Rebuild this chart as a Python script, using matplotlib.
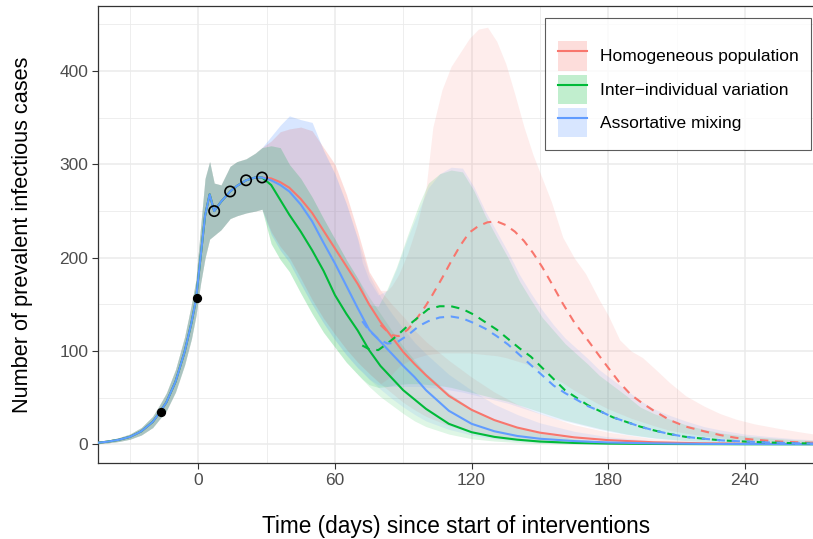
import matplotlib
matplotlib.use("Agg")
import matplotlib.pyplot as plt
from matplotlib.patches import Patch
from matplotlib.lines import Line2D

plt.rcParams["font.family"] = ["Liberation Sans", "DejaVu Sans"]

# --- DATA ---
LABELS = ["Homogeneous population", "Inter\u2212individual variation", "Assortative mixing"]
COLORS = ["#F8766D", "#00BA38", "#619CFF"]

# days for the "interventions kept" curves
DAYS = [-45, -40, -35, -30, -25, -20, -17, -14, -10, -6, -3, -1, 1, 3, 5, 7, 10, 14, 17, 21, 25, 28,
        32, 36, 40, 45, 50, 55, 60, 65, 70, 75, 80, 85, 90, 95, 100, 110, 120, 130, 140, 150,
        165, 180, 200, 220, 240, 273]

# shared epidemic phase up to day 28
EARLY_MEAN = [1.5, 2.8, 4.8, 8, 14, 24, 34, 45, 67, 99, 130, 155, 200, 245, 268, 250, 260, 271, 277, 283, 286, 286]
EARLY_LO = [0.5, 1.5, 3, 5.5, 10, 18, 27, 36, 56, 85, 113, 138, 172, 200, 220, 224, 230, 242, 245, 248, 250, 252]
EARLY_HI = [3, 4.5, 7, 11, 18, 30, 42, 55, 80, 115, 150, 176, 232, 285, 303, 280, 278, 298, 303, 306, 312, 318]

RED_LATE = [285, 281, 275, 263, 248, 229, 210, 191, 172, 150, 131, 115, 99, 86, 74, 52, 37, 26, 18, 12.5,
            7.5, 4.5, 2.2, 1.2, 0.7, 0.3]
RED_LATE_LO = [228, 212, 200, 178, 155, 135, 118, 102, 88, 76, 65, 55, 45, 37, 30, 20, 13, 8, 5, 3,
               2, 1, 0.5, 0.2, 0.1, 0]
RED_LATE_HI = [325, 335, 338, 340, 336, 318, 300, 268, 228, 185, 165, 150, 137, 122, 110, 90, 72, 56, 43, 33,
               21, 13, 6, 3, 2, 1]

GREEN_LATE = [278, 262, 246, 228, 208, 186, 160, 140, 122, 101, 84, 71, 58, 48, 38, 22, 13, 8, 5, 3,
              1.5, 0.8, 0.4, 0.2, 0.1, 0.05]
GREEN_LATE_LO = [215, 198, 185, 162, 140, 120, 104, 88, 75, 62, 51, 42, 33, 25, 19, 11, 6, 3.5, 2, 1,
                 0.5, 0.2, 0.1, 0, 0, 0]
GREEN_LATE_HI = [320, 318, 300, 285, 265, 242, 220, 198, 178, 158, 140, 122, 105, 90, 76, 55, 38, 26, 18, 12,
                 6, 3, 1.5, 0.5, 0.3, 0.1]

BLUE_LATE = [283, 278, 271, 257, 239, 216, 194, 170, 146, 123, 110, 97, 84, 72, 58, 36, 22, 14, 9, 6,
             3.5, 2, 1, 0.5, 0.3, 0.1]
BLUE_LATE_LO = [225, 208, 195, 172, 150, 130, 112, 96, 82, 70, 59, 49, 40, 32, 25, 16, 10, 6, 3.5, 2,
                1, 0.5, 0.2, 0.1, 0, 0]
BLUE_LATE_HI = [330, 342, 352, 348, 345, 315, 290, 258, 220, 182, 158, 140, 124, 109, 97, 75, 58, 43, 32, 23,
                14, 8, 4, 2, 1, 0.5]

# "interventions lifted" curves (dashed), from the day they branch off
RD_DAYS = [80, 83, 85, 88, 92, 96, 100, 103, 107, 111, 115, 119, 123, 127, 131, 135, 139, 143, 147, 151,
           155, 160, 165, 170, 176, 180, 185, 190, 195, 200, 207, 214, 222, 229, 236, 244, 255, 265, 273]
RD_MEAN = [128, 121, 117, 116, 123, 135, 149, 161, 178, 196, 213, 227, 234, 238, 239, 235, 228, 218, 205, 190,
           173, 151, 131, 115, 95, 82, 66, 53, 44, 36, 26, 19, 14, 10, 7, 5, 3, 2, 1.5]
RD_LO = [65, 70, 75, 83, 89, 93, 96, 97, 98, 98, 98, 98, 97, 96, 95, 93, 90, 87, 83, 78,
         73, 66, 58, 51, 43, 38, 33, 28, 24, 20, 15, 12, 9, 7, 5, 3.5, 2.5, 1.5, 1]
RD_HI = [165, 165, 170, 182, 205, 235, 275, 340, 380, 405, 420, 435, 445, 447, 432, 408, 375, 340, 310, 285,
         260, 222, 200, 183, 155, 138, 112, 100, 93, 82, 66, 52, 41, 33, 27, 22, 17, 13, 10]

GB_DAYS = [72, 75, 79, 83, 87, 92, 97, 101, 106, 111, 116, 121, 126, 131, 136, 141, 146, 151, 156, 161,
           166, 171, 176, 182, 188, 194, 200, 207, 214, 222, 230, 240, 250, 262, 273]
GD_MEAN = [106, 102, 101, 108, 116, 127, 137, 145, 148, 148, 145, 139, 131, 123, 113, 103, 94, 82, 70, 58,
           50, 42, 36, 29, 24, 19, 15, 11, 8, 6, 4.2, 3, 2, 1.2, 0.8]
GD_LO = [70, 64, 61, 62, 64, 65, 65, 64, 63, 61, 58, 55, 52, 49, 46, 42, 38, 34, 30, 26,
         23, 20, 17, 14, 11, 9, 7, 5.5, 4, 3, 2.2, 1.5, 1, 0.6, 0.4]
GD_HI = [168, 150, 148, 167, 190, 225, 258, 280, 290, 294, 292, 272, 245, 222, 200, 175, 155, 136, 122, 108,
         97, 86, 74, 63, 52, 40, 33, 27, 21, 16, 12, 9, 7, 5, 4]
BD_MEAN = [132, 122, 113, 108, 109, 117, 127, 132, 136, 137, 135, 130, 124, 116, 107, 96, 85, 74, 63, 55,
           48, 41, 36, 29, 24, 19, 15, 11, 8, 6, 4.2, 3, 2, 1.2, 0.8]
BD_LO = [78, 70, 64, 62, 62, 62, 62, 61, 60, 58, 56, 53, 50, 47, 44, 40, 36, 32, 28, 25,
         22, 19, 16, 13, 10.5, 8.5, 6.5, 5, 3.8, 2.8, 2, 1.4, 1, 0.6, 0.4]
BD_HI = [195, 176, 160, 165, 188, 222, 252, 275, 290, 297, 296, 276, 250, 228, 206, 182, 162, 144, 128, 114,
         103, 92, 80, 69, 58, 47, 38, 31, 25, 19, 15, 11, 8.5, 6, 4.5]

# observed points
OBS_FILLED_DAYS = [-16.5, -0.7]
OBS_FILLED_VALS = [34.5, 157]
OBS_OPEN_DAYS = [7, 14, 21, 28]
OBS_OPEN_VALS = [250, 271, 283, 286]

RIBBON_ALPHA = 0.13


def main():
    fig = plt.figure(figsize=(8.13, 5.39), dpi=100)
    ax = fig.add_axes([98 / 813, 76 / 539, (814 - 98) / 813, 457 / 539])

    solid = [
        (EARLY_MEAN + RED_LATE, EARLY_LO + RED_LATE_LO, EARLY_HI + RED_LATE_HI),
        (EARLY_MEAN + GREEN_LATE, EARLY_LO + GREEN_LATE_LO, EARLY_HI + GREEN_LATE_HI),
        (EARLY_MEAN + BLUE_LATE, EARLY_LO + BLUE_LATE_LO, EARLY_HI + BLUE_LATE_HI),
    ]
    dashed = [
        (RD_DAYS, RD_MEAN, RD_LO, RD_HI),
        (GB_DAYS, GD_MEAN, GD_LO, GD_HI),
        (GB_DAYS, BD_MEAN, BD_LO, BD_HI),
    ]

    # ribbons: each scenario shares its history with the solid run before branching
    for (m, lo, hi), c in zip(solid, COLORS):
        ax.fill_between(DAYS, lo, hi, color=c, alpha=RIBBON_ALPHA, lw=0, zorder=2)
    for (m, lo, hi), (d, dm, dlo, dhi), c in zip(solid, dashed, COLORS):
        keep = [i for i, t in enumerate(DAYS) if t < d[0]]
        days = [DAYS[i] for i in keep] + d
        lo_all = [lo[i] for i in keep] + dlo
        hi_all = [hi[i] for i in keep] + dhi
        ax.fill_between(days, lo_all, hi_all, color=c, alpha=RIBBON_ALPHA, lw=0, zorder=2)

    # lines
    for (m, lo, hi), c in zip(solid, COLORS):
        ax.plot(DAYS, m, color=c, lw=1.5, zorder=4)
    for (d, m, lo, hi), c in zip(dashed, COLORS):
        ax.plot(d, m, color=c, lw=1.5, ls=(0, (4, 3.2)), zorder=4)

    ax.scatter(OBS_FILLED_DAYS, OBS_FILLED_VALS, s=32, color="black", zorder=6)
    ax.scatter(OBS_OPEN_DAYS, OBS_OPEN_VALS, s=55, facecolors="none", edgecolors="black",
               linewidths=1.2, zorder=6)

    ax.set_xlim(-44.0, 270.3)
    ax.set_ylim(-20.0, 469.8)
    ax.set_xticks([0, 60, 120, 180, 240])
    ax.set_xticks([-30, 30, 90, 150, 210, 270], minor=True)
    ax.set_yticks([0, 100, 200, 300, 400])
    ax.set_yticks([50, 150, 250, 350, 450], minor=True)
    ax.grid(which="major", color="#EBEBEB", lw=1.1, zorder=0)
    ax.grid(which="minor", color="#EBEBEB", lw=0.6, zorder=0)
    ax.set_axisbelow(True)
    ax.tick_params(which="major", length=4, width=0.8, color="#333333", labelsize=12.5,
                   labelcolor="#4D4D4D", pad=3)
    ax.tick_params(which="minor", length=0)
    for s in ax.spines.values():
        s.set_color("#333333")
        s.set_linewidth(0.9)

    ax.set_xlabel("Time (days) since start of interventions", fontsize=16.3, labelpad=20)
    ax.set_ylabel("Number of prevalent infectious cases", fontsize=15.7, labelpad=19)

    key_alpha = 1 - (1 - RIBBON_ALPHA) ** 2
    handles = [(Patch(facecolor=c, alpha=key_alpha, edgecolor="none"), Line2D([], [], color=c, lw=1.5))
               for c in COLORS]
    leg = ax.legend(handles, LABELS, loc="upper right", bbox_to_anchor=(811 / 813, 1 - 18 / 539),
                    bbox_transform=fig.transFigure, borderaxespad=0, fontsize=12.5, frameon=True,
                    fancybox=False, handlelength=1.7, handleheight=2.2, labelspacing=0.25,
                    handletextpad=0.75, borderpad=0.7, title=" ", title_fontsize=5.5)
    leg.get_frame().set_edgecolor("#333333")
    leg.get_frame().set_linewidth(0.8)

    fig.savefig("out.png", dpi=100)


if __name__ == "__main__":
    main()
